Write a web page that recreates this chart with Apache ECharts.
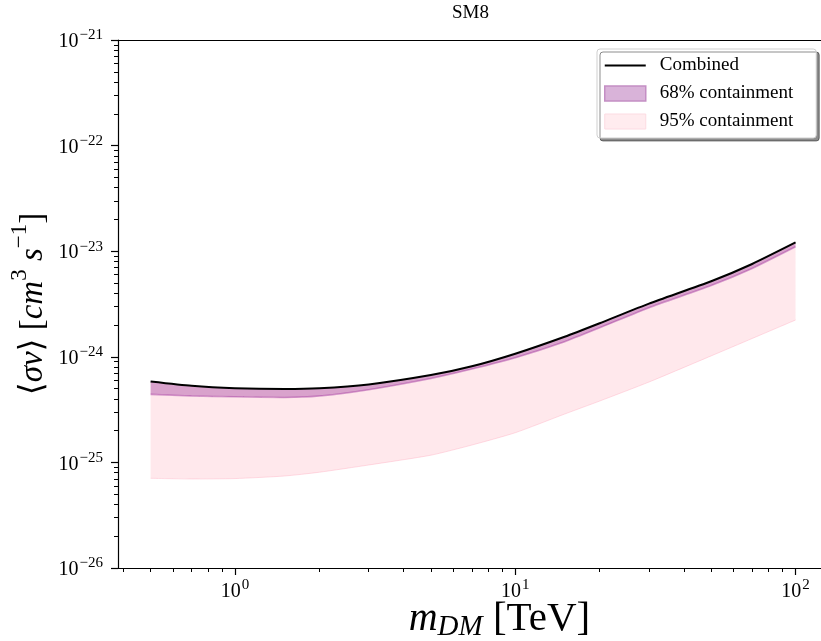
<!DOCTYPE html>
<html>
<head>
<meta charset="utf-8">
<script src="https://cdn.jsdelivr.net/npm/echarts@6/dist/echarts.min.js"></script>
<style>
html,body{margin:0;padding:0;background:#fff;}
#chart{width:821px;height:641px;}
</style>
</head>
<body>
<div id="chart"></div>
<script>
// ---- data ----
const masses   = [0.5, 0.7, 1, 1.5, 2, 3, 5, 7, 10, 15, 20, 30, 50, 70, 100];
const combined = [5.83e-25, 5.31e-25, 5.04e-25, 4.95e-25, 5.03e-25, 5.47e-25, 6.71e-25, 8.13e-25, 1.07e-24, 1.55e-24, 2.08e-24, 3.19e-24, 5.19e-24, 7.57e-24, 1.21e-23];
const lower68  = [4.41e-25, 4.25e-25, 4.18e-25, 4.12e-25, 4.25e-25, 4.88e-25, 6.23e-25, 7.65e-25, 9.8e-25, 1.39e-24, 1.88e-24, 2.92e-24, 4.73e-24, 6.86e-24, 1.10e-23];
const lower95  = [7.07e-26, 6.97e-26, 7.03e-26, 7.43e-26, 8.07e-26, 9.45e-26, 1.17e-25, 1.46e-25, 1.91e-25, 2.87e-25, 3.81e-25, 5.77e-25, 1.02e-24, 1.49e-24, 2.23e-24];
const xTickExps = [0, 1, 2];
const yTickExps = [-26, -25, -24, -23, -22, -21];
const xRange = [0.3825, 125.3];
const yRange = [1e-26, 1e-21];
const legendNames = ['Combined', '68% containment', '95% containment'];
const titleText = 'SM8';

// ---- helpers ----
const OFF = 30; // offset in log10 space so all values stay positive
const lx = v => Math.log10(v);
const ly = v => Math.log10(v) + OFF;
const X = masses.map(lx);
const pts = arr => X.map((x, i) => [x, ly(arr[i])]);
// rows as [y, x] so that the stacked dimension is the y value
const rowsY = arr => X.map((x, i) => [ly(arr[i]), x]);
const rowsDiff = (top, bot) => X.map((x, i) => [ly(top[i]) - ly(bot[i]), x]);

function minors(lo, hi, off) {
  const out = [];
  for (let n = Math.floor(Math.log10(lo)); n <= Math.ceil(Math.log10(hi)); n++) {
    for (let k = 2; k <= 9; k++) {
      const v = k * Math.pow(10, n);
      if (v > lo && v < hi) out.push(Math.log10(v) + off);
    }
  }
  return out;
}
const SERIF = '"Liberation Serif", "DejaVu Serif", serif';
function expLabel(e) {
  const s = e < 0 ? '\u2212' + (-e) : String(e);
  return '{b|10}{s|' + s + '}';
}
const labelRich = {
  b: {fontFamily: SERIF, fontSize: 20, color: '#000', lineHeight: 24, verticalAlign: 'bottom'},
  s: {fontFamily: SERIF, fontSize: 15, color: '#000', lineHeight: 24, verticalAlign: 'top', padding: [0, 0, 0, 1]}
};

const xMin = lx(xRange[0]), xMax = lx(xRange[1]);
const yMin = ly(yRange[0]), yMax = ly(yRange[1]);
const xMajor = xTickExps.slice();
const yMajor = yTickExps.map(e => e + OFF);
const xMinor = minors(xRange[0], xRange[1], 0);
const yMinor = minors(yRange[0], yRange[1], OFF);

const PURPLE_A = 'rgba(128,0,128,0.3)';
const PINK_A = 'rgba(255,192,203,0.36)';

const chart = echarts.init(document.getElementById('chart'), null, {renderer: 'canvas'});
const smooth = 0.2;
const stackBase = (name, arr, stack, z) => ({
  name, type: 'line', stack, stackStrategy: 'all', data: rowsY(arr), encode: {x: 1, y: 0},
  symbol: 'none', smooth, silent: true, z, lineStyle: {width: 0, opacity: 0}
});
const stackBand = (name, top, bot, stack, color, z) => ({
  name, type: 'line', stack, stackStrategy: 'all', data: rowsDiff(top, bot), encode: {x: 1, y: 0},
  symbol: 'none', smooth, silent: true, z, lineStyle: {width: 0, opacity: 0},
  itemStyle: {color}, areaStyle: {color, opacity: 1}
});
const option = {
  animation: false,
  backgroundColor: '#fff',
  title: {
    text: titleText, left: 447, top: 1, padding: [2, 5],
    textStyle: {fontFamily: SERIF, fontSize: 19, fontWeight: 'normal', color: '#000', lineHeight: 20}
  },
  grid: {left: 118, top: 40, right: -2, bottom: 73, containLabel: false, outerBoundsMode: 'none'},
  legend: {
    orient: 'vertical', left: 597, top: 49,
    padding: [7, 23, 7, 7], itemGap: 9, itemWidth: 41, itemHeight: 15,
    backgroundColor: '#fff', borderColor: '#cfcfcf', borderWidth: 1, borderRadius: 3,
    shadowColor: 'rgba(0,0,0,0.45)', shadowBlur: 0, shadowOffsetX: 3, shadowOffsetY: 3,
    textStyle: {fontFamily: SERIF, fontSize: 19, color: '#000', padding: [0, 0, 0, 9]},
    selectedMode: false,
    data: [
      {name: legendNames[0], icon: 'path://M0,0L41,0L41,2L0,2Z', itemStyle: {color: '#000', borderWidth: 0}},
      {name: legendNames[1], icon: 'rect', itemStyle: {color: '#d9b3d9', borderColor: '#c48ec4', borderWidth: 1.5}},
      {name: legendNames[2], icon: 'rect', itemStyle: {color: '#ffecef', borderColor: '#fcdbe2', borderWidth: 1}}
    ]
  },
  xAxis: [
    {
      type: 'value', min: xMin, max: xMax, position: 'bottom', z: 10,
      name: '{mi|m}{sub|DM}{r| [TeV]}', nameLocation: 'middle', nameGap: 28, nameMoveOverlap: false,
      nameTextStyle: {
        padding: [0, 0, 0, 58],
        rich: {
          mi: {fontFamily: SERIF, fontStyle: 'italic', fontSize: 40, color: '#000', lineHeight: 46, verticalAlign: 'middle'},
          sub: {fontFamily: SERIF, fontStyle: 'italic', fontSize: 29, color: '#000', lineHeight: 46, verticalAlign: 'bottom'},
          r: {fontFamily: SERIF, fontSize: 41, color: '#000', lineHeight: 46, verticalAlign: 'middle'}
        }
      },
      axisLine: {show: true, onZero: false, lineStyle: {color: '#000', width: 1.2}},
      axisTick: {show: true, inside: false, length: 7, lineStyle: {color: '#000', width: 1.2}, customValues: xMajor},
      axisLabel: {show: true, margin: 10, customValues: xMajor, formatter: v => expLabel(Math.round(v)), rich: labelRich},
      splitLine: {show: false}
    },
    {
      type: 'value', min: xMin, max: xMax, position: 'bottom', z: 10,
      axisLine: {show: false, onZero: false}, axisLabel: {show: false}, splitLine: {show: false},
      axisTick: {show: true, inside: false, length: 4, lineStyle: {color: '#000', width: 1}, customValues: xMinor}
    },
    {
      type: 'value', min: xMin, max: xMax, position: 'top', z: 10,
      axisLine: {show: true, onZero: false, lineStyle: {color: '#000', width: 1.2}},
      axisLabel: {show: false}, axisTick: {show: false}, splitLine: {show: false}
    }
  ],
  yAxis: [
    {
      type: 'value', min: yMin, max: yMax, position: 'left', z: 10,
      name: '{r|\u27E8}{mi|\u03C3v}{r|\u27E9 [}{mi|cm}{sup|3}{r| }{mi|s}{sup|\u22121}{r|]}',
      nameLocation: 'middle', nameGap: 68, nameMoveOverlap: false,
      nameTextStyle: {
        rich: {
          mi: {fontFamily: SERIF, fontStyle: 'italic', fontSize: 33, color: '#000', lineHeight: 42, verticalAlign: 'bottom'},
          r: {fontFamily: SERIF, fontSize: 33, color: '#000', lineHeight: 42, verticalAlign: 'bottom'},
          sup: {fontFamily: SERIF, fontSize: 23, color: '#000', lineHeight: 42, verticalAlign: 'top'}
        }
      },
      axisLine: {show: true, onZero: false, lineStyle: {color: '#000', width: 1.2}},
      axisTick: {show: true, inside: false, length: 7, lineStyle: {color: '#000', width: 1.2}, customValues: yMajor},
      axisLabel: {show: true, margin: 15, customValues: yMajor, formatter: v => expLabel(Math.round(v - OFF)), rich: labelRich},
      splitLine: {show: false}
    },
    {
      type: 'value', min: yMin, max: yMax, position: 'left', z: 10,
      axisLine: {show: false, onZero: false}, axisLabel: {show: false}, splitLine: {show: false},
      axisTick: {show: true, inside: false, length: 4, lineStyle: {color: '#000', width: 1}, customValues: yMinor}
    }
  ],
  series: [
    stackBase('base95', lower95, 'p', 1),
    stackBand(legendNames[2], combined, lower95, 'p', PINK_A, 1),
    stackBase('base68', lower68, 'q', 2),
    stackBand(legendNames[1], combined, lower68, 'q', PURPLE_A, 2),
    {name: 'edge95', type: 'line', data: pts(lower95), symbol: 'none', smooth, silent: true, z: 3,
     lineStyle: {color: 'rgba(255,170,190,0.4)', width: 1}},
    {name: 'edge68', type: 'line', data: pts(lower68), symbol: 'none', smooth, silent: true, z: 3,
     lineStyle: {color: 'rgba(150,30,150,0.4)', width: 1.6}},
    {name: legendNames[0], type: 'line', data: pts(combined), symbol: 'none', smooth, silent: true, z: 5,
     lineStyle: {color: '#000', width: 2}, itemStyle: {color: '#000'}}
  ]
};
chart.setOption(option);
</script>
</body>
</html>
